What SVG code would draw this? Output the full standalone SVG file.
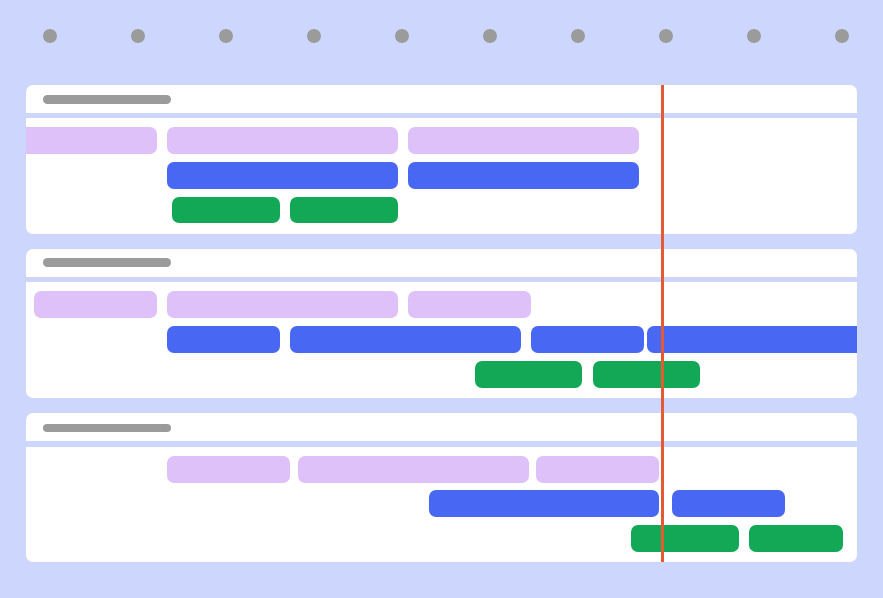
<svg xmlns="http://www.w3.org/2000/svg" width="883" height="598" viewBox="0 0 883 598">
<style>
.p{fill:#fff}.h{fill:#9b9b9b}.s{fill:#cdd6fc}.l{fill:#dfc1f9}.b{fill:#4868f3}.g{fill:#13a856}.d{fill:#9b9b9b}
</style>
<defs>
<clipPath id="c1"><rect x="26" y="85" width="831" height="149" rx="7"/></clipPath>
<clipPath id="c2"><rect x="26" y="249" width="831" height="149" rx="7"/></clipPath>
</defs>
<rect width="883" height="598" fill="#cdd6fc"/>
<g id="dots">
<circle class="d" cx="50" cy="36" r="7"/><circle class="d" cx="138" cy="36" r="7"/><circle class="d" cx="226" cy="36" r="7"/><circle class="d" cx="314" cy="36" r="7"/><circle class="d" cx="402" cy="36" r="7"/><circle class="d" cx="490" cy="36" r="7"/><circle class="d" cx="578" cy="36" r="7"/><circle class="d" cx="666" cy="36" r="7"/><circle class="d" cx="754" cy="36" r="7"/><circle class="d" cx="842" cy="36" r="7"/>
</g>
<g id="panel1">
<rect class="p" x="26" y="85" width="831" height="149" rx="7"/>
<rect class="h" x="43" y="95" width="128" height="9" rx="4.5"/>
<rect class="s" x="26" y="113" width="831" height="5"/>
<g clip-path="url(#c1)">
<rect class="l" x="10" y="127" width="147" height="27" rx="7"/>
</g>
<rect class="l" x="167" y="127" width="231" height="27" rx="7"/>
<rect class="l" x="408" y="127" width="231" height="27" rx="7"/>
<rect class="b" x="167" y="162" width="231" height="27" rx="7"/>
<rect class="b" x="408" y="162" width="231" height="27" rx="7"/>
<rect class="g" x="172" y="197" width="108" height="26" rx="7"/>
<rect class="g" x="290" y="197" width="108" height="26" rx="7"/>
</g>
<g id="panel2">
<rect class="p" x="26" y="249" width="831" height="149" rx="7"/>
<rect class="h" x="43" y="258" width="128" height="9" rx="4.5"/>
<rect class="s" x="26" y="277" width="831" height="5"/>
<rect class="l" x="34" y="291" width="123" height="27" rx="7"/>
<rect class="l" x="167" y="291" width="231" height="27" rx="7"/>
<rect class="l" x="408" y="291" width="123" height="27" rx="7"/>
<rect class="b" x="167" y="326" width="113" height="27" rx="7"/>
<rect class="b" x="290" y="326" width="231" height="27" rx="7"/>
<rect class="b" x="531" y="326" width="113" height="27" rx="7"/>
<g clip-path="url(#c2)"><rect class="b" x="647" y="326" width="230" height="27" rx="7"/></g>
<rect class="g" x="475" y="361" width="107" height="27" rx="7"/>
<rect class="g" x="593" y="361" width="107" height="27" rx="7"/>
</g>
<g id="panel3">
<rect class="p" x="26" y="413" width="831" height="149" rx="7"/>
<rect class="h" x="43" y="424" width="128" height="8" rx="4"/>
<rect class="s" x="26" y="441" width="831" height="6"/>
<rect class="l" x="167" y="456" width="123" height="27" rx="7"/>
<rect class="l" x="298" y="456" width="231" height="27" rx="7"/>
<rect class="l" x="536" y="456" width="123" height="27" rx="7"/>
<rect class="b" x="429" y="490" width="230" height="27" rx="7"/>
<rect class="b" x="672" y="490" width="113" height="27" rx="7"/>
<rect class="g" x="631" y="525" width="108" height="27" rx="7"/>
<rect class="g" x="749" y="525" width="94" height="27" rx="7"/>
</g>
<g id="now"><rect x="661" y="85" width="3" height="477" fill="#e45a32"/></g>
</svg>
